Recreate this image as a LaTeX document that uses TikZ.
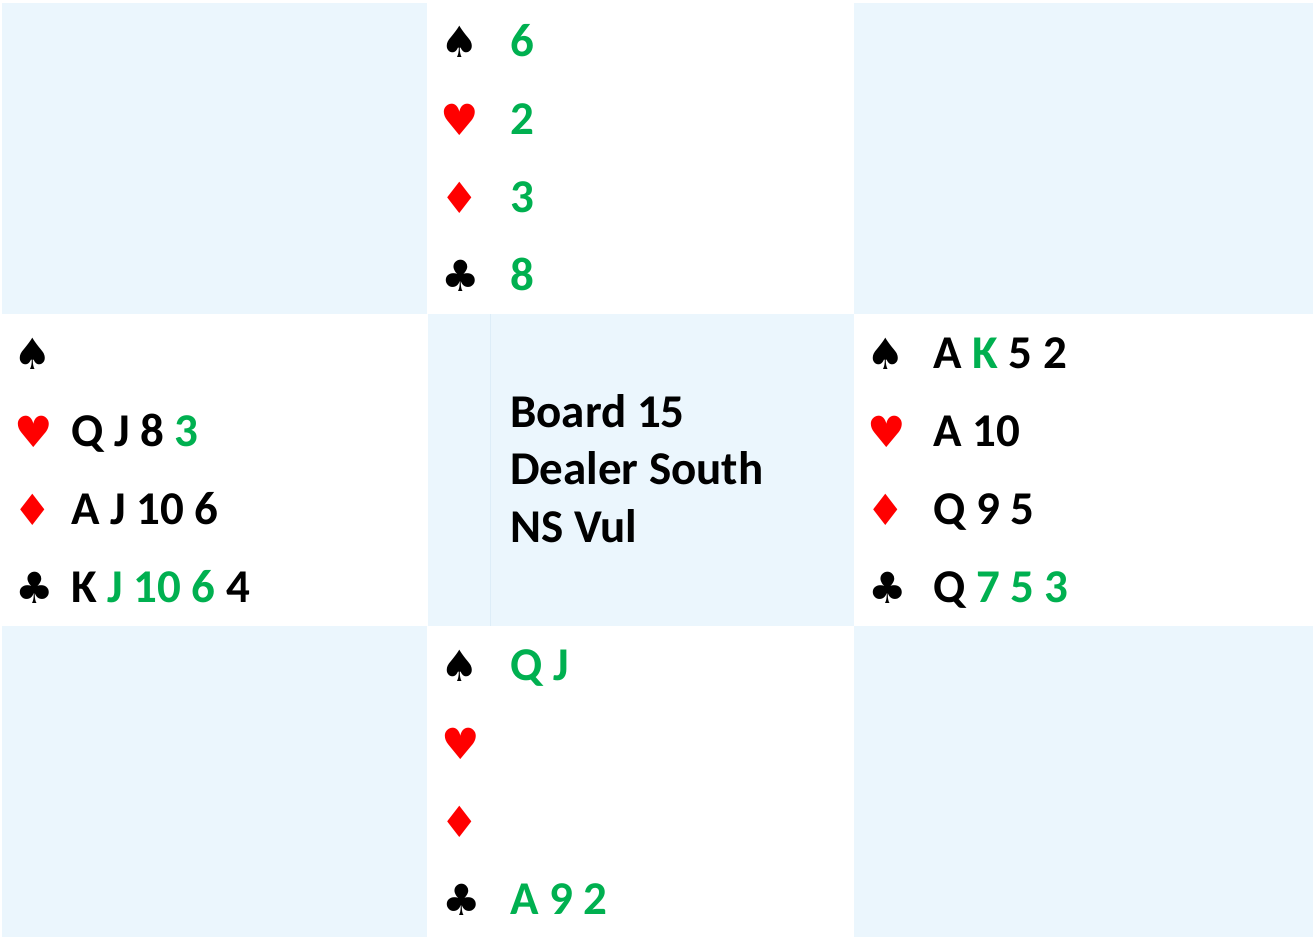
\documentclass[tikz,border=0pt]{standalone}
\usepackage{fontspec}
\setmainfont{Carlito}
\newfontfamily\suitfont{DejaVu Sans}
\definecolor{cellblue}{HTML}{EBF6FD}
\definecolor{lineblue}{HTML}{DDEDF8}
\definecolor{cardgreen}{HTML}{00B050}
\definecolor{suitred}{HTML}{FF0000}
\begin{document}
\begin{tikzpicture}[x=1pt,y=-1pt,
  cell/.style={fill=cellblue,draw=none},
  suit/.style={font=\suitfont\fontsize{43}{43}\selectfont,inner sep=0pt,anchor=center},
  redsuit/.style={suit,text=suitred},
  cards/.style={font=\bfseries\fontsize{47}{47}\selectfont,inner sep=0pt,anchor=base west},
  info/.style={font=\bfseries\fontsize{46}{57.5}\selectfont,inner sep=0pt,anchor=north west,align=left}]
\useasboundingbox (0,0) rectangle (1315,938);
\fill[white] (0,0) rectangle (1315,938);
% blue cells
\fill[cell] (2,3) rectangle (427,314);
\fill[cell] (854,3) rectangle (1313,314);
\fill[cell] (428,314) rectangle (854,626);
\fill[cell] (2,626) rectangle (427,937);
\fill[cell] (854,626) rectangle (1313,937);
\draw[lineblue,line width=1pt] (490,314) -- (490,626);
% North
\node[suit] (ns) at (460,42) {♠};
\node[cards,text=cardgreen] (nsc) at (510,56) {6};
\node[redsuit] (nh) at (460,120) {♥};
\node[cards,text=cardgreen] (nhc) at (510,134) {2};
\node[redsuit] (nd) at (460,198) {♦};
\node[cards,text=cardgreen] (ndc) at (510,212) {3};
\node[suit] (nc) at (461,276) {♣};
\node[cards,text=cardgreen] (ncc) at (510,290) {8};
% West
\node[suit] (ws) at (33,354) {♠};
\node[redsuit] (wh) at (34,432) {♥};
\node[cards] (whc) at (71,446) {Q J 8 \textcolor{cardgreen}{3}};
\node[redsuit] (wd) at (33,510) {♦};
\node[cards] (wdc) at (71,524) {A J 10 6};
\node[suit] (wc) at (35,588) {♣};
\node[cards] (wcc) at (71,602) {K \textcolor{cardgreen}{J 10 6} 4};
% East
\node[suit] (es) at (886,354) {♠};
\node[cards] (esc) at (933,368) {A \textcolor{cardgreen}{K} 5 2};
\node[redsuit] (eh) at (887,432) {♥};
\node[cards] (ehc) at (933,446) {A 10};
\node[redsuit] (ed) at (886,510) {♦};
\node[cards] (edc) at (933,524) {Q 9 5};
\node[suit] (ec) at (888,588) {♣};
\node[cards] (ecc) at (933,602) {Q \textcolor{cardgreen}{7 5 3}};
% South
\node[suit] (ss) at (460,666) {♠};
\node[cards,text=cardgreen] (ssc) at (510,680) {Q J};
\node[redsuit] (sh) at (461,744) {♥};
\node[redsuit] (sd) at (460,822) {♦};
\node[suit] (sc) at (462,900) {♣};
\node[cards,text=cardgreen] (scc) at (510,914) {A 9 2};
% Center info
\node[cards] (b1) at (510,427) {Board 15};
\node[cards] (b2) at (510,484.5) {Dealer South};
\node[cards] (b3) at (510,542) {NS Vul};
\end{tikzpicture}
\end{document}
